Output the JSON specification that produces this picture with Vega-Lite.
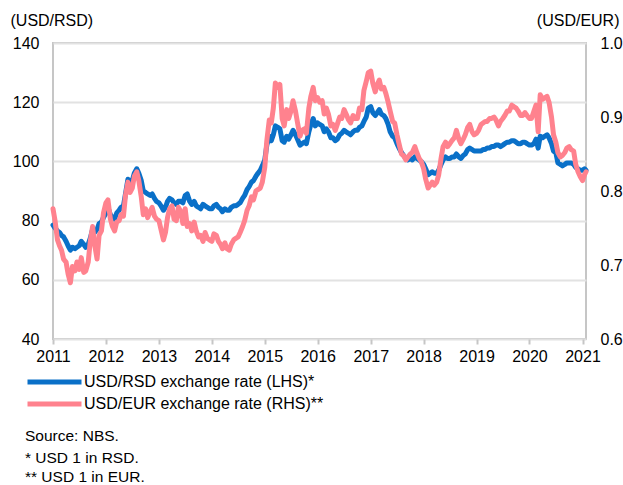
{
 "$schema": "https://vega.github.io/schema/vega-lite/v6.json",
 "width": 533,
 "height": 296,
 "autosize": {"type": "none"},
 "padding": {"left": 53, "top": 43, "right": 37, "bottom": 146},
 "background": "#ffffff",
 "config": {
  "font": "Liberation Sans",
  "view": {"stroke": "#c6c6c6", "strokeWidth": 2},
  "axis": {"labelFont": "Liberation Sans", "labelFontSize": 16, "labelColor": "#000000", "titleFont": "Liberation Sans", "titleFontSize": 16, "titleFontWeight": "normal", "titleColor": "#000000", "gridColor": "#e2e2e2", "gridWidth": 2, "domain": false},
  "legend": {"labelFont": "Liberation Sans", "labelFontSize": 16, "labelColor": "#000000", "padding": 0, "labelLimit": 0}
 },
 "title": {
  "text": "Source: NBS.",
  "subtitle": ["*  USD 1 in RSD.", "** USD 1 in EUR."],
  "orient": "bottom",
  "anchor": "start",
  "frame": "group",
  "dx": -28,
  "offset": 16,
  "font": "Liberation Sans",
  "fontSize": 15.5,
  "fontWeight": "normal",
  "color": "#000000",
  "subtitleFont": "Liberation Sans",
  "subtitleFontSize": 15.5,
  "subtitleColor": "#000000",
  "subtitlePadding": 6,
  "subtitleLineHeight": 19.5
 },
 "data": {"values": [
  {"d":"2011-01-01","rsd":78.5,"eur":0.776},{"d":"2011-01-15","rsd":77.5,"eur":0.76},{"d":"2011-02-01","rsd":76.5,"eur":0.734},{"d":"2011-02-15","rsd":76,"eur":0.726},{"d":"2011-03-01","rsd":75,"eur":0.72},{"d":"2011-03-15","rsd":74.5,"eur":0.708},{"d":"2011-04-01","rsd":73,"eur":0.704},{"d":"2011-04-15","rsd":71.5,"eur":0.688},{"d":"2011-05-01","rsd":70,"eur":0.676},{"d":"2011-05-15","rsd":71,"eur":0.698},{"d":"2011-06-01","rsd":70.5,"eur":0.692},{"d":"2011-06-15","rsd":71,"eur":0.704},{"d":"2011-07-01","rsd":71.5,"eur":0.694},{"d":"2011-07-15","rsd":73,"eur":0.71},{"d":"2011-08-01","rsd":72,"eur":0.69},{"d":"2011-08-15","rsd":71,"eur":0.692},{"d":"2011-09-01","rsd":72,"eur":0.704},{"d":"2011-09-15","rsd":74,"eur":0.732},{"d":"2011-10-01","rsd":77,"eur":0.752},{"d":"2011-10-15","rsd":76,"eur":0.728},{"d":"2011-11-01","rsd":77,"eur":0.708},{"d":"2011-11-15","rsd":79,"eur":0.74},{"d":"2011-12-01","rsd":79.5,"eur":0.746},{"d":"2011-12-15","rsd":81,"eur":0.77},
  {"d":"2012-01-01","rsd":82.5,"eur":0.784},{"d":"2012-01-15","rsd":84.5,"eur":0.788},{"d":"2012-02-01","rsd":82,"eur":0.762},{"d":"2012-02-15","rsd":81,"eur":0.752},{"d":"2012-03-01","rsd":80.5,"eur":0.746},{"d":"2012-03-15","rsd":82.5,"eur":0.758},{"d":"2012-04-01","rsd":83.5,"eur":0.76},{"d":"2012-04-15","rsd":84.5,"eur":0.768},{"d":"2012-05-01","rsd":85,"eur":0.766},{"d":"2012-05-15","rsd":89,"eur":0.794},{"d":"2012-06-01","rsd":94,"eur":0.812},{"d":"2012-06-15","rsd":92.5,"eur":0.798},{"d":"2012-07-01","rsd":93.5,"eur":0.804},{"d":"2012-07-15","rsd":96,"eur":0.82},{"d":"2012-08-01","rsd":97.5,"eur":0.826},{"d":"2012-08-15","rsd":96,"eur":0.814},{"d":"2012-09-01","rsd":93.5,"eur":0.792},{"d":"2012-09-15","rsd":90,"eur":0.768},{"d":"2012-10-01","rsd":89.5,"eur":0.776},{"d":"2012-10-15","rsd":89,"eur":0.764},{"d":"2012-11-01","rsd":88.5,"eur":0.772},{"d":"2012-11-15","rsd":89,"eur":0.778},{"d":"2012-12-01","rsd":87.5,"eur":0.766},{"d":"2012-12-15","rsd":86.5,"eur":0.762},
  {"d":"2013-01-01","rsd":86,"eur":0.76},{"d":"2013-01-15","rsd":85,"eur":0.748},{"d":"2013-02-01","rsd":83.5,"eur":0.734},{"d":"2013-02-15","rsd":84.5,"eur":0.744},{"d":"2013-03-01","rsd":86.5,"eur":0.764},{"d":"2013-03-15","rsd":87.5,"eur":0.776},{"d":"2013-04-01","rsd":87,"eur":0.78},{"d":"2013-04-15","rsd":86,"eur":0.762},{"d":"2013-05-01","rsd":85.5,"eur":0.76},{"d":"2013-05-15","rsd":86.5,"eur":0.778},{"d":"2013-06-01","rsd":86.5,"eur":0.772},{"d":"2013-06-15","rsd":86,"eur":0.756},{"d":"2013-07-01","rsd":88.5,"eur":0.776},{"d":"2013-07-15","rsd":89,"eur":0.752},{"d":"2013-08-01","rsd":86.5,"eur":0.756},{"d":"2013-08-15","rsd":85.5,"eur":0.746},{"d":"2013-09-01","rsd":86.5,"eur":0.758},{"d":"2013-09-15","rsd":85,"eur":0.746},{"d":"2013-10-01","rsd":84.5,"eur":0.738},{"d":"2013-10-15","rsd":84,"eur":0.74},{"d":"2013-11-01","rsd":85.5,"eur":0.732},{"d":"2013-11-15","rsd":85,"eur":0.744},{"d":"2013-12-01","rsd":84.5,"eur":0.736},{"d":"2013-12-15","rsd":84,"eur":0.734},
  {"d":"2014-01-01","rsd":84,"eur":0.732},{"d":"2014-01-15","rsd":85,"eur":0.742},{"d":"2014-02-01","rsd":85.5,"eur":0.74},{"d":"2014-02-15","rsd":84.5,"eur":0.732},{"d":"2014-03-01","rsd":84,"eur":0.728},{"d":"2014-03-15","rsd":83,"eur":0.722},{"d":"2014-04-01","rsd":84,"eur":0.73},{"d":"2014-04-15","rsd":83.5,"eur":0.722},{"d":"2014-05-01","rsd":83.5,"eur":0.72},{"d":"2014-05-15","rsd":84.5,"eur":0.728},{"d":"2014-06-01","rsd":85,"eur":0.734},{"d":"2014-06-15","rsd":85,"eur":0.736},{"d":"2014-07-01","rsd":85.5,"eur":0.738},{"d":"2014-07-15","rsd":86,"eur":0.744},{"d":"2014-08-01","rsd":87.5,"eur":0.752},{"d":"2014-08-15","rsd":88.5,"eur":0.76},{"d":"2014-09-01","rsd":90.5,"eur":0.774},{"d":"2014-09-15","rsd":91.5,"eur":0.78},{"d":"2014-10-01","rsd":93,"eur":0.792},{"d":"2014-10-15","rsd":93.5,"eur":0.788},{"d":"2014-11-01","rsd":95,"eur":0.8},{"d":"2014-11-15","rsd":96,"eur":0.802},{"d":"2014-12-01","rsd":97,"eur":0.804},{"d":"2014-12-15","rsd":98.5,"eur":0.812},
  {"d":"2015-01-01","rsd":100.5,"eur":0.832},{"d":"2015-01-15","rsd":105.5,"eur":0.868},{"d":"2015-02-01","rsd":108.5,"eur":0.896},{"d":"2015-02-15","rsd":107,"eur":0.892},{"d":"2015-03-01","rsd":109,"eur":0.912},{"d":"2015-03-15","rsd":112,"eur":0.946},{"d":"2015-04-01","rsd":111.5,"eur":0.94},{"d":"2015-04-15","rsd":111,"eur":0.944},{"d":"2015-05-01","rsd":107,"eur":0.898},{"d":"2015-05-15","rsd":106.5,"eur":0.888},{"d":"2015-06-01","rsd":108.5,"eur":0.91},{"d":"2015-06-15","rsd":107.5,"eur":0.898},{"d":"2015-07-01","rsd":109,"eur":0.908},{"d":"2015-07-15","rsd":110.5,"eur":0.922},{"d":"2015-08-01","rsd":109,"eur":0.908},{"d":"2015-08-15","rsd":107.5,"eur":0.892},{"d":"2015-09-01","rsd":105.5,"eur":0.874},{"d":"2015-09-15","rsd":106,"eur":0.882},{"d":"2015-10-01","rsd":106.5,"eur":0.884},{"d":"2015-10-15","rsd":106,"eur":0.878},{"d":"2015-11-01","rsd":110,"eur":0.912},{"d":"2015-11-15","rsd":112.5,"eur":0.928},{"d":"2015-12-01","rsd":114.5,"eur":0.94},{"d":"2015-12-15","rsd":112,"eur":0.922},
  {"d":"2016-01-01","rsd":113,"eur":0.926},{"d":"2016-01-15","rsd":112.5,"eur":0.92},{"d":"2016-02-01","rsd":112,"eur":0.922},{"d":"2016-02-15","rsd":110,"eur":0.904},{"d":"2016-03-01","rsd":111,"eur":0.912},{"d":"2016-03-15","rsd":110,"eur":0.904},{"d":"2016-04-01","rsd":108,"eur":0.888},{"d":"2016-04-15","rsd":108,"eur":0.89},{"d":"2016-05-01","rsd":107,"eur":0.882},{"d":"2016-05-15","rsd":107.5,"eur":0.89},{"d":"2016-06-01","rsd":109,"eur":0.9},{"d":"2016-06-15","rsd":109.5,"eur":0.898},{"d":"2016-07-01","rsd":110.5,"eur":0.91},{"d":"2016-07-15","rsd":110,"eur":0.904},{"d":"2016-08-01","rsd":109.5,"eur":0.896},{"d":"2016-08-15","rsd":109,"eur":0.892},{"d":"2016-09-01","rsd":110,"eur":0.902},{"d":"2016-09-15","rsd":110.5,"eur":0.898},{"d":"2016-10-01","rsd":110.5,"eur":0.898},{"d":"2016-10-15","rsd":111.5,"eur":0.912},{"d":"2016-11-01","rsd":112,"eur":0.91},{"d":"2016-11-15","rsd":113.5,"eur":0.936},{"d":"2016-12-01","rsd":115,"eur":0.948},{"d":"2016-12-15","rsd":118,"eur":0.96},
  {"d":"2017-01-01","rsd":118.5,"eur":0.962},{"d":"2017-01-15","rsd":116.5,"eur":0.946},{"d":"2017-02-01","rsd":115.5,"eur":0.934},{"d":"2017-02-15","rsd":116.5,"eur":0.944},{"d":"2017-03-01","rsd":117.5,"eur":0.95},{"d":"2017-03-15","rsd":116,"eur":0.938},{"d":"2017-04-01","rsd":115.5,"eur":0.94},{"d":"2017-04-15","rsd":114.5,"eur":0.932},{"d":"2017-05-01","rsd":112.5,"eur":0.92},{"d":"2017-05-15","rsd":110,"eur":0.908},{"d":"2017-06-01","rsd":108.5,"eur":0.894},{"d":"2017-06-15","rsd":108,"eur":0.892},{"d":"2017-07-01","rsd":106,"eur":0.876},{"d":"2017-07-15","rsd":104.5,"eur":0.864},{"d":"2017-08-01","rsd":103,"eur":0.85},{"d":"2017-08-15","rsd":102,"eur":0.848},{"d":"2017-09-01","rsd":101,"eur":0.842},{"d":"2017-09-15","rsd":100.5,"eur":0.846},{"d":"2017-10-01","rsd":101,"eur":0.85},{"d":"2017-10-15","rsd":100.5,"eur":0.852},{"d":"2017-11-01","rsd":101.5,"eur":0.86},{"d":"2017-11-15","rsd":101,"eur":0.852},{"d":"2017-12-01","rsd":100.5,"eur":0.844},{"d":"2017-12-15","rsd":100,"eur":0.84},
  {"d":"2018-01-01","rsd":99,"eur":0.83},{"d":"2018-01-15","rsd":97.5,"eur":0.816},{"d":"2018-02-01","rsd":95.5,"eur":0.804},{"d":"2018-02-15","rsd":96,"eur":0.808},{"d":"2018-03-01","rsd":96.5,"eur":0.812},{"d":"2018-03-15","rsd":96,"eur":0.808},{"d":"2018-04-01","rsd":96,"eur":0.812},{"d":"2018-04-15","rsd":97,"eur":0.822},{"d":"2018-05-01","rsd":99,"eur":0.844},{"d":"2018-05-15","rsd":100.5,"eur":0.86},{"d":"2018-06-01","rsd":101.5,"eur":0.866},{"d":"2018-06-15","rsd":101,"eur":0.86},{"d":"2018-07-01","rsd":101,"eur":0.864},{"d":"2018-07-15","rsd":101.5,"eur":0.868},{"d":"2018-08-01","rsd":101.5,"eur":0.872},{"d":"2018-08-15","rsd":102.5,"eur":0.882},{"d":"2018-09-01","rsd":101.5,"eur":0.87},{"d":"2018-09-15","rsd":101,"eur":0.864},{"d":"2018-10-01","rsd":102,"eur":0.87},{"d":"2018-10-15","rsd":102.5,"eur":0.876},{"d":"2018-11-01","rsd":104,"eur":0.886},{"d":"2018-11-15","rsd":104.5,"eur":0.89},{"d":"2018-12-01","rsd":104,"eur":0.88},{"d":"2018-12-15","rsd":103.5,"eur":0.876},
  {"d":"2019-01-01","rsd":103.5,"eur":0.878},{"d":"2019-01-15","rsd":103.5,"eur":0.882},{"d":"2019-02-01","rsd":103.5,"eur":0.89},{"d":"2019-02-15","rsd":104,"eur":0.892},{"d":"2019-03-01","rsd":104,"eur":0.894},{"d":"2019-03-15","rsd":104.5,"eur":0.894},{"d":"2019-04-01","rsd":104.5,"eur":0.898},{"d":"2019-04-15","rsd":105,"eur":0.898},{"d":"2019-05-01","rsd":105,"eur":0.9},{"d":"2019-05-15","rsd":105.5,"eur":0.896},{"d":"2019-06-01","rsd":105.5,"eur":0.888},{"d":"2019-06-15","rsd":105,"eur":0.894},{"d":"2019-07-01","rsd":105.5,"eur":0.898},{"d":"2019-07-15","rsd":106,"eur":0.902},{"d":"2019-08-01","rsd":106.5,"eur":0.908},{"d":"2019-08-15","rsd":106.5,"eur":0.908},{"d":"2019-09-01","rsd":107,"eur":0.916},{"d":"2019-09-15","rsd":107,"eur":0.914},{"d":"2019-10-01","rsd":106.5,"eur":0.912},{"d":"2019-10-15","rsd":106,"eur":0.908},{"d":"2019-11-01","rsd":106,"eur":0.902},{"d":"2019-11-15","rsd":106.5,"eur":0.902},{"d":"2019-12-01","rsd":106.5,"eur":0.906},{"d":"2019-12-15","rsd":106,"eur":0.902},
  {"d":"2020-01-01","rsd":105.5,"eur":0.898},{"d":"2020-01-15","rsd":105.5,"eur":0.898},{"d":"2020-02-01","rsd":106,"eur":0.908},{"d":"2020-02-15","rsd":107.5,"eur":0.916},{"d":"2020-03-01","rsd":104.5,"eur":0.88},{"d":"2020-03-15","rsd":108.5,"eur":0.93},{"d":"2020-04-01","rsd":108,"eur":0.924},{"d":"2020-04-15","rsd":108.5,"eur":0.926},{"d":"2020-05-01","rsd":109,"eur":0.928},{"d":"2020-05-15","rsd":108,"eur":0.92},{"d":"2020-06-01","rsd":106,"eur":0.9},{"d":"2020-06-15","rsd":103.5,"eur":0.876},{"d":"2020-07-01","rsd":103,"eur":0.866},{"d":"2020-07-15","rsd":99.5,"eur":0.852},{"d":"2020-08-01","rsd":99,"eur":0.846},{"d":"2020-08-15","rsd":98.5,"eur":0.848},{"d":"2020-09-01","rsd":99,"eur":0.852},{"d":"2020-09-15","rsd":99.5,"eur":0.858},{"d":"2020-10-01","rsd":99.5,"eur":0.86},{"d":"2020-10-15","rsd":99.5,"eur":0.856},{"d":"2020-11-01","rsd":99,"eur":0.854},{"d":"2020-11-15","rsd":98,"eur":0.836},{"d":"2020-12-01","rsd":97.5,"eur":0.826},{"d":"2020-12-15","rsd":97,"eur":0.82},
  {"d":"2021-01-01","rsd":97,"eur":0.814},{"d":"2021-01-15","rsd":97.5,"eur":0.822},{"d":"2021-01-25","rsd":97,"eur":0.826}
 ]},
 "layer": [
  {
   "mark": {"type": "line", "strokeWidth": 5, "strokeCap": "round", "strokeJoin": "round", "clip": false},
   "encoding": {
    "x": {"field": "d", "type": "temporal", "scale": {"domain": ["2011-01-01", "2021-01-25"]},
     "axis": {"title": null, "format": "%Y", "tickCount": {"interval": "year", "step": 1}, "grid": false, "ticks": true, "tickSize": 5, "tickWidth": 2, "tickColor": "#c6c6c6", "labelPadding": 4, "labelFlush": false, "labelOverlap": false}},
    "y": {"field": "rsd", "type": "quantitative", "scale": {"domain": [40, 140]},
     "axis": {"orient": "left", "values": [40, 60, 80, 100, 120, 140], "ticks": false, "labelPadding": 14, "grid": true, "title": "(USD/RSD)", "titleAngle": 0, "titleX": -43, "titleY": -23, "titleAlign": "left", "titleBaseline": "middle"}},
    "color": {"datum": "USD/RSD exchange rate (LHS)*", "type": "nominal",
     "scale": {"domain": ["USD/RSD exchange rate (LHS)*", "USD/EUR exchange rate (RHS)**"], "range": ["#0a70c8", "#ff828e"]},
     "legend": {"title": null, "orient": "none", "legendX": -28, "legendY": 330, "symbolType": "stroke", "symbolSize": 2916, "symbolStrokeWidth": 5, "labelOffset": 0, "clipHeight": 18, "rowPadding": 4}}
   }
  },
  {
   "mark": {"type": "line", "strokeWidth": 5, "strokeCap": "round", "strokeJoin": "round", "clip": false},
   "encoding": {
    "x": {"field": "d", "type": "temporal"},
    "y": {"field": "eur", "type": "quantitative", "scale": {"domain": [0.6, 1.0]},
     "axis": {"orient": "right", "values": [0.6, 0.7, 0.8, 0.9, 1.0], "format": ".1f", "ticks": false, "labelPadding": 14, "grid": false, "title": "(USD/EUR)", "titleAngle": 0, "titleX": 33, "titleY": -23, "titleAlign": "right", "titleBaseline": "middle"}},
    "color": {"datum": "USD/EUR exchange rate (RHS)**", "type": "nominal"}
   }
  }
 ],
 "resolve": {"scale": {"y": "independent"}}
}
